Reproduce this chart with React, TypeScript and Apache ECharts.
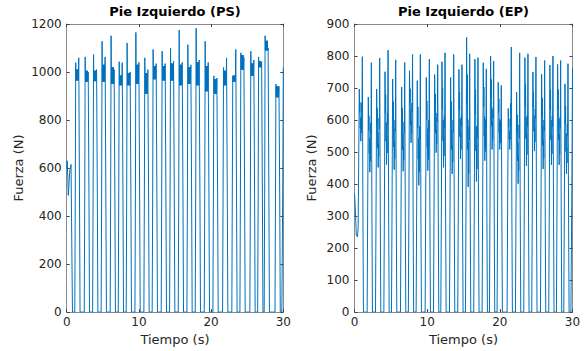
import React, { useEffect, useRef } from "react";
import * as echarts from "echarts";

// ---------- Data ----------
const titles = ["Pie Izquierdo (PS)", "Pie Izquierdo (EP)"];
const xName = "Tiempo (s)";
const yName = "Fuerza (N)";

// PS (left): initial standing segment
const psInitT = [0, 0.07, 0.15, 0.22, 0.3, 0.4, 0.5, 0.6, 0.7, 0.8];
const psInitV = [600, 630, 560, 486, 520, 580, 600, 615, 300, 0];
// PS: per step cycle (time of first peak, first peak, last peak, block high, block low)
const psCycleT = [1.25, 2.56, 3.72, 4.9, 6.15, 7.27, 8.37, 9.58, 10.82, 11.97, 13.22, 14.38, 15.58, 16.78, 17.93, 19.18, 20.38, 21.72, 23.0, 24.12, 25.5, 26.58, 27.48, 28.98];
const psFirst = [1039, 1063, 1073, 1128, 1151, 1043, 1121, 1165, 1059, 1094, 1087, 1100, 1175, 1114, 1182, 1128, 984, 1019, 984, 1080, 1087, 1063, 1151, 950];
const psLast = [1059, 1000, 1010, 1063, 1010, 1039, 1000, 1040, 1010, 1035, 1035, 1045, 1040, 1030, 1050, 1040, 975, 1059, 1094, 1060, 1050, 1040, 1100, 940];
const psBlockHi = [1010, 1005, 1005, 1030, 1020, 985, 995, 1030, 995, 1025, 1025, 1035, 1030, 1020, 1040, 1025, 970, 1005, 985, 1070, 1035, 1045, 1130, 940];
const psBlockLo = [965, 960, 962, 960, 950, 945, 945, 950, 910, 970, 965, 965, 945, 950, 945, 920, 910, 945, 960, 1010, 985, 1020, 1090, 895];
// PS: step shape (time offset from first peak, role)
const psShapeDt = [-0.13, -0.06, 0, 0.04, 0.08, 0.12, 0.16, 0.2, 0.24, 0.28, 0.32, 0.36, 0.42, 0.52, 0.6];
const psShapeRole = ["zero", "mid", "first", "lo", "hi", "lo", "hi", "lo", "hi", "lo", "hi", "lo", "last", "mid", "zero"];
const psMid = 500;
const psEndT = [29.8, 29.92, 30];
const psEndV = [0, 500, 1019];

// EP (right): initial segment
const epInitT = [0, 0.1, 0.25, 0.4, 0.5];
const epInitV = [370, 330, 240, 235, 260];
// EP: per step cycle (time of first peak, first peak, valley, second peak)
const epCycleT = [0.66, 1.9, 3.05, 4.2, 5.25, 6.49, 7.57, 8.64, 9.88, 11.03, 12.04, 13.23, 14.37, 15.43, 16.57, 17.72, 18.73, 19.78, 21.16, 22.31, 23.45, 24.55, 25.75, 26.89, 27.95, 28.96];
const epPeak1 = [697, 672, 697, 751, 728, 703, 754, 723, 733, 742, 782, 733, 758, 858, 790, 779, 800, 718, 636, 687, 795, 750, 743, 772, 774, 713];
const epLow = [534, 437, 452, 461, 445, 440, 529, 396, 442, 498, 452, 432, 478, 391, 408, 473, 508, 508, 508, 401, 457, 503, 447, 460, 460, 432];
const epPeak2 = [798, 779, 794, 818, 788, 780, 805, 805, 790, 773, 810, 805, 773, 807, 795, 760, 784, 708, 828, 810, 807, 797, 786, 800, 786, 776];
// EP: step shape (time offset, weight toward peak1 / peak2 above the valley)
const epShapeDt = [-0.16, -0.08, 0, 0.05, 0.09, 0.13, 0.17, 0.21, 0.25, 0.29, 0.33, 0.37, 0.42, 0.5, 0.57];
const epShapeKind = ["abs", "abs", "a", "a", "a", "a", "a", "a", "a", "c", "c", "c", "c", "abs", "abs"];
const epShapeW = [0, 350, 1, 0.55, 0.75, 0.25, 0.45, 0, 0.3, 0.1, 0.45, 0.35, 1, 300, 0];
const epEndT = [29.78, 29.9, 30];
const epEndV = [0, 350, 764];

const xTickInterval = 10;
const psYMax = 1200;
const psYInterval = 200;
const epYMax = 900;
const epYInterval = 100;

function buildPS(): number[][] {
  const pts: number[][] = [];
  psInitT.forEach((t, i) => pts.push([t, psInitV[i]]));
  psCycleT.forEach((tc, i) => {
    psShapeDt.forEach((dt, j) => {
      const r = psShapeRole[j];
      const v =
        r === "zero" ? 0 :
        r === "mid" ? psMid :
        r === "first" ? psFirst[i] :
        r === "last" ? psLast[i] :
        r === "hi" ? psBlockHi[i] : psBlockLo[i];
      pts.push([+(tc + dt).toFixed(3), v]);
    });
  });
  psEndT.forEach((t, i) => pts.push([t, psEndV[i]]));
  return pts;
}

function buildEP(): number[][] {
  const pts: number[][] = [];
  epInitT.forEach((t, i) => pts.push([t, epInitV[i]]));
  epCycleT.forEach((tp, i) => {
    const a = epPeak1[i], b = epLow[i], c = epPeak2[i];
    epShapeDt.forEach((dt, j) => {
      if (i === 0 && dt < 0) return;
      const k = epShapeKind[j];
      const w = epShapeW[j];
      const v = k === "abs" ? w : k === "a" ? b + w * (a - b) : b + w * (c - b);
      pts.push([+(tp + dt).toFixed(3), Math.round(v)]);
    });
  });
  epEndT.forEach((t, i) => pts.push([t, epEndV[i]]));
  return pts;
}

const FONT = "DejaVu Sans";
const TXT = "#262626";
const AX = "#8a8a8a";

function makeX(gridIndex: number, main: boolean) {
  return {
    type: "value",
    gridIndex,
    position: main ? "bottom" : "top",
    min: 0,
    max: 30,
    interval: xTickInterval,
    name: main ? xName : "",
    nameLocation: "middle",
    nameGap: 18,
    nameTextStyle: { fontFamily: FONT, fontSize: 13, color: TXT },
    axisLine: { show: true, onZero: false, lineStyle: { color: AX, width: 1 } },
    axisTick: { show: true, inside: true, length: 3, lineStyle: { color: "#404040" } },
    axisLabel: { show: main, margin: 4, fontFamily: FONT, fontSize: 12, color: TXT, formatter: (v: number) => String(v) },
    splitLine: { show: false },
  };
}

function makeY(gridIndex: number, main: boolean, max: number, interval: number, gap: number) {
  return {
    type: "value",
    gridIndex,
    position: main ? "left" : "right",
    min: 0,
    max,
    interval,
    name: main ? yName : "",
    nameLocation: "middle",
    nameGap: gap,
    nameTextStyle: { fontFamily: FONT, fontSize: 13, color: TXT },
    axisLine: { show: true, onZero: false, lineStyle: { color: AX, width: 1 } },
    axisTick: { show: true, inside: true, length: 3, lineStyle: { color: "#404040" } },
    axisLabel: { show: main, margin: 5, fontFamily: FONT, fontSize: 12, color: TXT, formatter: (v: number) => String(v) },
    splitLine: { show: false },
  };
}

export default function App() {
  const ref = useRef<HTMLDivElement>(null);
  useEffect(() => {
    if (!ref.current) return;
    const chart = echarts.init(ref.current, undefined, { renderer: "svg" });
    const lineStyle = { color: "#0072BD", width: 1 };
    chart.setOption({
      animation: false,
      backgroundColor: "#ffffff",
      grid: [
        { left: 66.7, top: 24, width: 216.6, height: 294 },
        { left: 354.5, top: 24, width: 218, height: 294 },
      ],
      xAxis: [makeX(0, true), makeX(0, false), makeX(1, true), makeX(1, false)],
      yAxis: [
        makeY(0, true, psYMax, psYInterval, 42),
        makeY(0, false, psYMax, psYInterval, 42),
        makeY(1, true, epYMax, epYInterval, 37),
        makeY(1, false, epYMax, epYInterval, 37),
      ],
      graphic: [
        {
          type: "text",
          x: 175,
          y: 11,
          style: { text: titles[0], font: `bold 13px "${FONT}"`, fill: "#000", align: "center", verticalAlign: "middle" },
        },
        {
          type: "text",
          x: 463.5,
          y: 11,
          style: { text: titles[1], font: `bold 13px "${FONT}"`, fill: "#000", align: "center", verticalAlign: "middle" },
        },
      ],
      series: [
        {
          type: "line",
          xAxisIndex: 0,
          yAxisIndex: 0,
          data: buildPS(),
          showSymbol: false,
          symbol: "none",
          lineStyle,
          clip: true,
        },
        {
          type: "line",
          xAxisIndex: 2,
          yAxisIndex: 2,
          data: buildEP(),
          showSymbol: false,
          symbol: "none",
          lineStyle,
          clip: true,
        },
      ],
    });
    return () => chart.dispose();
  }, []);
  return (
    <div
      ref={ref}
      style={{ position: "fixed", left: 0, top: 0, width: 585, height: 351, background: "#fff" }}
    />
  );
}
